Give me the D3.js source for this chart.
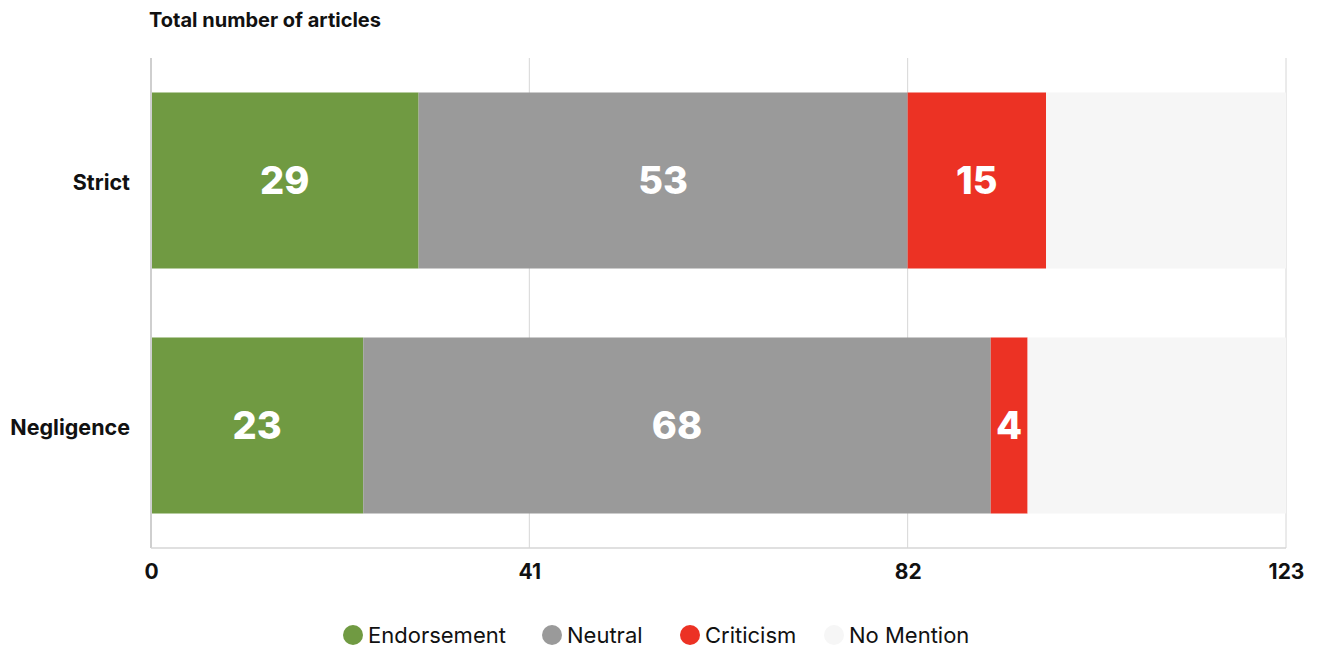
<!DOCTYPE html>
<html>
<head>
<meta charset="utf-8">
<script src="https://cdn.jsdelivr.net/npm/d3@7"></script>
<style>
  body { margin: 0; background: #fff; }
  text { font-family: Inter, "Open Sans", sans-serif; }
</style>
</head>
<body>
<div id="chart"></div>
<script>
const width = 1322;
const height = 647;

// data
const categories = ["Strict", "Negligence"];
const seriesNames = ["Endorsement", "Neutral", "Criticism", "No Mention"];
const endorsement = [29, 23];
const neutral = [53, 68];
const criticism = [15, 4];
const noMention = [26, 28];
const tickValues = [0, 41, 82, 123];
const colors = ["#709a42", "#9a9a9a", "#ec3224", "#f6f6f6"];

const margin = { top: 58, left: 151, right: 36, bottom: 99 };

const rows = categories.map((c, i) => ({
    name: c,
    Endorsement: endorsement[i],
    Neutral: neutral[i],
    Criticism: criticism[i],
    "No Mention": noMention[i]
}));

const stack = d3.stack().keys(seriesNames)(rows);

const svg = d3.select("#chart").append("svg")
    .attr("width", width)
    .attr("height", height);

const xScale = d3.scaleLinear()
    .domain([0, 123])
    .range([margin.left, width - margin.right]);

const yScale = d3.scaleBand()
    .domain(categories)
    .range([margin.top, height - margin.bottom])
    .paddingInner(0.2816)
    .paddingOuter(0.1408);

const color = d3.scaleOrdinal().domain(seriesNames).range(colors);

// title
svg.append("text")
    .attr("x", 149)
    .attr("y", 27)
    .attr("font-size", 20)
    .attr("font-weight", 700)
    .attr("fill", "#111")
    .text("Total number of articles");

// gridlines
svg.append("g")
    .selectAll("line")
    .data(tickValues.slice(1))
    .join("line")
    .attr("x1", d => xScale(d))
    .attr("x2", d => xScale(d))
    .attr("y1", margin.top)
    .attr("y2", height - margin.bottom)
    .attr("stroke", "#d6d6d6")
    .attr("stroke-width", 1);

// bars
svg.append("g")
    .selectAll("g")
    .data(stack)
    .join("g")
    .attr("fill", d => color(d.key))
    .selectAll("rect")
    .data(d => d)
    .join("rect")
    .attr("x", d => xScale(d[0]))
    .attr("y", d => yScale(d.data.name))
    .attr("width", d => xScale(d[1]) - xScale(d[0]))
    .attr("height", yScale.bandwidth());

// value labels
svg.append("g")
    .selectAll("g")
    .data(stack.filter(s => s.key !== "No Mention"))
    .join("g")
    .selectAll("text")
    .data(d => d)
    .join("text")
    .attr("x", d => (xScale(d[0]) + xScale(d[1])) / 2)
    .attr("y", d => yScale(d.data.name) + yScale.bandwidth() / 2)
    .attr("dy", "0.36em")
    .attr("text-anchor", "middle")
    .attr("font-size", 38)
    .attr("font-weight", 800)
    .attr("fill", "#fff")
    .text(d => d[1] - d[0]);

// axes lines
svg.append("line")
    .attr("x1", margin.left)
    .attr("x2", margin.left)
    .attr("y1", margin.top)
    .attr("y2", height - margin.bottom)
    .attr("stroke", "#cfcfcf")
    .attr("stroke-width", 2);

svg.append("line")
    .attr("x1", margin.left)
    .attr("x2", xScale(123))
    .attr("y1", height - margin.bottom)
    .attr("y2", height - margin.bottom)
    .attr("stroke", "#d6d6d6")
    .attr("stroke-width", 1.5);

// x tick labels
const xAxis = svg.append("g")
    .attr("transform", `translate(0,${height - margin.bottom})`)
    .call(d3.axisBottom(xScale).tickValues(tickValues).tickSize(0).tickPadding(16));
xAxis.select(".domain").remove();
xAxis.selectAll(".tick text")
    .attr("font-size", 21)
    .attr("font-weight", 700)
    .attr("fill", "#111")
    .style("font-family", "Inter, sans-serif");

// y labels
const yAxis = svg.append("g")
    .attr("transform", `translate(${margin.left},0)`)
    .call(d3.axisLeft(yScale).tickSize(0).tickPadding(21));
yAxis.select(".domain").remove();
yAxis.selectAll(".tick text")
    .attr("font-size", 21.5)
    .attr("font-weight", 700)
    .attr("fill", "#111")
    .attr("dy", "0.45em")
    .style("font-family", "Inter, sans-serif");

// legend
const legendX = [353, 552, 690, 834];
const legend = svg.append("g")
    .selectAll("g")
    .data(seriesNames)
    .join("g")
    .attr("transform", (d, i) => `translate(${legendX[i]},635)`);
legend.append("circle")
    .attr("r", 10)
    .attr("fill", d => color(d));
legend.append("text")
    .attr("x", 15)
    .attr("dy", "0.35em")
    .attr("font-size", 22)
    .attr("fill", "#111")
    .text(d => d);
</script>
</body>
</html>
